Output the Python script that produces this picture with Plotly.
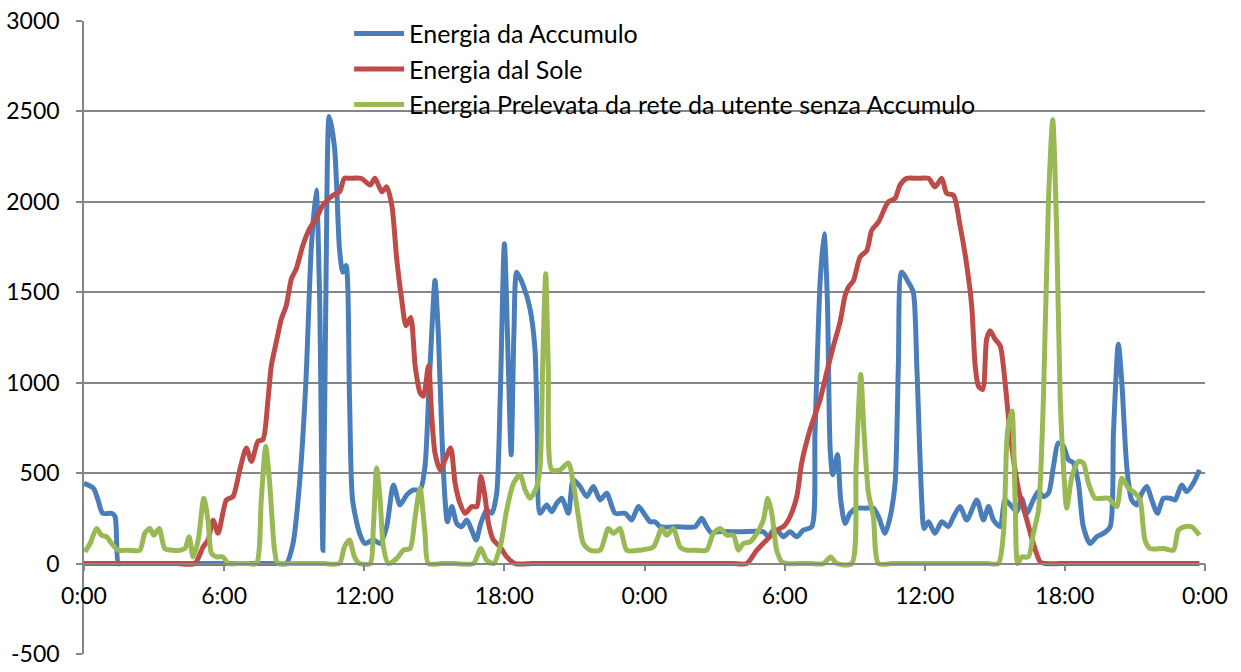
import plotly.graph_objects as go

# ---- Energia da Accumulo (hours, W) ----
acc_t = [0, 0.4, 0.6, 0.8, 1.18, 1.33, 1.47, 1.6, 2.5, 3.5,
         4.5, 5.5, 6.5, 7.5, 8.3, 8.66, 8.95,
         9.23, 9.5, 9.73, 9.94, 10.09, 10.23, 10.37, 10.5, 10.73, 10.94,
         11.08, 11.22, 11.37, 11.5, 11.8, 12.03, 12.39, 12.68, 12.96, 13.25,
         13.53, 13.82, 14.1, 14.39, 14.6, 14.75, 14.89, 15.03, 15.17, 15.32,
         15.46, 15.56, 15.75, 15.96, 16.17, 16.39, 16.6, 16.79, 16.99, 17.24,
         17.46, 17.67, 17.82, 18.0, 18.17, 18.29, 18.41, 18.53, 18.81, 19.1,
         19.31, 19.41, 19.53, 19.81, 20.03, 20.24, 20.46, 20.74, 20.95, 21.24,
         21.53, 21.81, 22.1, 22.38, 22.74, 23.17, 23.45, 23.74, 24.02, 24.24,
         24.45, 24.67, 25.4, 26.17, 26.45, 26.66, 26.88, 27.09, 28.1, 29.09, 29.3, 29.52,
         29.73, 29.95, 30.23, 30.52, 30.8, 31.16, 31.3, 31.52, 31.69, 31.83,
         31.95, 32.06, 32.26, 32.4, 32.59, 32.8, 33.09, 33.45, 33.8, 34.02, 34.3,
         34.52, 34.73, 34.87, 35.01, 35.3, 35.51, 35.66, 35.87, 35.97, 36.16,
         36.44, 36.73, 37.01, 37.23, 37.51, 37.8, 38.23, 38.51, 38.73, 38.94,
         39.23, 39.44, 39.73, 39.94, 40.15, 40.37, 40.65, 40.87, 41.08, 41.3,
         41.51, 41.72, 41.94, 42.15, 42.37, 42.58, 42.79, 43.08, 43.36, 43.65,
         43.94, 44.08, 44.29, 44.44, 44.65, 44.86, 45.08, 45.29, 45.51, 45.72,
         45.96, 46.22, 46.51, 46.72, 47.0, 47.22, 47.5, 47.76]
acc_v = [444, 417, 352, 278, 278, 260, 0, 0, 0, 0,
         0, 0, 0, 0, 0, 0, 111,
         444, 1000, 1740, 2065, 1463, 74, 1650, 2472, 2296, 1740,
         1611, 1648, 907, 352, 167, 111, 130, 111, 204, 435,
         324, 380, 407, 407, 537, 907, 1278, 1565, 1278, 722,
         352, 231, 315, 222, 204, 241, 185, 130, 222, 296,
         278, 389, 907, 1769, 1093, 602, 1278, 1611, 1537, 1407,
         1185, 722, 278, 324, 287, 333, 361, 278, 463, 426,
         370, 426, 352, 389, 278, 278, 241, 315, 269, 231,
         231, 204, 204, 204, 250, 204, 167, 176, 176, 176, 148, 185,
         176, 148, 176, 148, 185, 204, 722, 1556, 1824, 1463,
         630, 491, 602, 352, 222, 278, 306, 306, 306, 259, 167,
         259, 444, 1093, 1611, 1556, 1500, 1093, 352, 194, 231,
         167, 231, 204, 259, 315, 241, 352, 241, 315, 241,
         204, 352, 315, 287, 361, 278, 352, 398, 370, 389,
         537, 667, 648, 574, 556, 444, 204, 111, 148, 167,
         204, 722, 1213, 1000, 537, 352, 324, 389, 426, 352,
         278, 361, 361, 352, 435, 398, 444, 518]

# ---- Energia dal Sole ----
sole_t = [0, 1, 2, 3, 4, 4.74, 5.1, 5.31, 5.53, 5.74, 6.1, 6.38, 6.67, 6.95,
          7.17, 7.45, 7.66, 7.88, 8.02, 8.23, 8.45, 8.66, 8.88, 9.09,
          9.37, 9.66, 9.94, 10.23, 10.66, 10.94, 11.15, 11.37, 11.87, 12.25,
          12.46, 12.75, 12.96, 13.18, 13.39, 13.6, 13.79, 13.99, 14.18, 14.39,
          14.53, 14.75, 14.89, 15.03, 15.25, 15.46, 15.7, 15.89, 16.1, 16.32,
          16.6, 16.82, 16.99, 17.17, 17.32, 17.53, 17.82, 18.1, 18.46, 19.2,
          20, 21, 22, 23, 24, 25, 26, 27, 27.8, 28.38,
          28.81, 29.23, 29.66, 29.95, 30.23, 30.52, 30.73, 31.09, 31.52, 31.8,
          32.09, 32.37, 32.59, 32.73, 32.95, 33.23, 33.52, 33.73, 34.02, 34.44,
          34.73, 34.94, 35.23, 35.7, 36.16, 36.44, 36.73, 36.94, 37.23, 37.51, 37.8,
          38.01, 38.16, 38.3, 38.48, 38.65, 38.8, 39.01, 39.23, 39.44, 39.58,
          39.8, 40.08, 40.37, 40.65, 40.94, 41.15, 41.8, 42.5, 43.5, 44.5,
          45.5, 46.5, 47.76]
sole_v = [0, 0, 0, 0, 0, 0, 92, 130, 240, 167, 352, 370, 518, 639,
          565, 676, 685, 907, 1093, 1222, 1352, 1426, 1574, 1630,
          1759, 1852, 1907, 1982, 2037, 2055, 2130, 2130, 2130, 2093,
          2130, 2056, 2083, 1982, 1685, 1463, 1315, 1361, 1093, 944,
          926, 1093, 815, 611, 518, 574, 639, 444, 333, 278,
          315, 315, 481, 370, 222, 130, 92, 37, 0, 0,
          0, 0, 0, 0, 0, 0, 0, 0, 0, 0,
          74, 130, 185, 204, 259, 370, 556, 741, 907, 1056,
          1204, 1333, 1482, 1528, 1565, 1695, 1731, 1843, 1889, 2000,
          2019, 2093, 2130, 2130, 2130, 2083, 2130, 2046, 2037, 1870, 1648,
          1426, 1093, 981, 963, 1241, 1287, 1241, 1204, 1000, 815,
          574, 370, 241, 111, 9, 0, 0, 0, 0, 0,
          0, 0, 0]

# ---- Energia Prelevata da rete da utente senza Accumulo ----
rete_t = [0.04, 0.26, 0.54, 0.75, 0.97, 1.18, 1.47, 1.9, 2.39, 2.6, 2.82,
          2.99, 3.22, 3.46, 3.8, 4.1, 4.32, 4.5, 4.67, 4.89, 5.13, 5.31,
          5.46, 5.67, 5.95, 6.17, 6.6, 7.0, 7.38, 7.59, 7.78, 7.95, 8.16, 8.3,
          8.9, 9.6, 10.3, 10.94, 11.15, 11.37, 11.58, 11.8, 12.25, 12.39, 12.53, 12.68, 12.82,
          13.03, 13.39, 13.68, 13.96, 14.18, 14.39, 14.6, 14.75, 15.3, 15.9, 16.67, 16.99,
          17.24, 17.53, 17.82, 18.1, 18.39, 18.67, 18.89, 19.1, 19.39, 19.53,
          19.64, 19.77, 19.88, 20.03, 20.38, 20.74, 20.95, 21.17, 21.38, 21.67,
          22.1, 22.45, 22.67, 22.95, 23.24, 23.81, 24.38, 24.74, 24.95, 25.24,
          25.52, 25.81, 26.2, 26.66, 26.95, 27.24, 27.52, 27.81, 28.02, 28.23, 28.52,
          28.81, 29.09, 29.28, 29.45, 29.66, 29.88, 30.09, 30.6, 31.1, 31.66, 31.97, 32.23,
          32.87, 33.06, 33.26, 33.4, 33.59, 33.8, 34.02, 34.6, 35.3, 36.0, 36.7, 37.4,
          38.1, 38.7, 39.15, 39.37, 39.54,
          39.73, 39.87, 39.98, 40.15, 40.44, 40.65, 40.87, 41.08, 41.3, 41.48,
          41.65, 41.8, 41.94, 42.08, 42.3, 42.58, 42.79, 43.01, 43.29, 43.58,
          43.87, 44.22, 44.44, 44.72, 45.01, 45.22, 45.43, 45.65, 46.22, 46.65,
          46.86, 47.15, 47.43, 47.76]
rete_v = [65, 111, 194, 157, 148, 111, 74, 74, 74, 167, 194,
          157, 194, 83, 74, 74, 83, 148, 37, 130, 361, 240,
          56, 37, 37, 0, 0, 0, 0, 352, 648, 444, 74, 0,
          0, 0, 0, 0, 92, 130, 37, 0, 0, 200, 528, 352, 92,
          0, 28, 74, 83, 260, 417, 167, 0, 0, 0, 0, 83,
          19, 0, 92, 296, 444, 491, 407, 361, 426, 537,
          1093, 1602, 1093, 518, 518, 556, 444, 260, 111, 74,
          74, 194, 167, 194, 74, 74, 92, 194, 157, 194,
          92, 74, 74, 74, 167, 194, 157, 157, 74, 111, 120,
          167, 241, 361, 278, 74, 9, 0, 0, 0, 0, 37, 0,
          0, 537, 1046, 722, 389, 259, 0, 0, 0, 0, 0, 0,
          0, 0, 0, 167, 722,
          843, 352, 0, 37, 37, 167, 296, 907, 2019, 2454,
          1833, 907, 537, 306, 481, 565, 556, 444, 361, 361,
          361, 315, 472, 417, 389, 352, 130, 83, 83, 74,
          185, 204, 204, 157]

x_tick_vals = [0, 6, 12, 18, 24, 30, 36, 42, 48]
x_tick_text = ["0:00", "6:00", "12:00", "18:00", "0:00", "6:00", "12:00", "18:00", "0:00"]
y_tick_vals = [-500, 0, 500, 1000, 1500, 2000, 2500, 3000]
y_tick_text = ["-500", "0", "500", "1000", "1500", "2000", "2500", "3000"]

series = [
    ("Energia da Accumulo", acc_t, acc_v, "#4A7EBB"),
    ("Energia dal Sole", sole_t, sole_v, "#BE4B48"),
    ("Energia Prelevata da rete da utente senza Accumulo", rete_t, rete_v, "#98B954"),
]

FONT = "Lato"
GRID = "#868686"

fig = go.Figure()
for name, t, v, col in series:
    fig.add_trace(go.Scatter(x=t, y=v, mode="lines", name=name,
                             line=dict(color=col, width=5, shape="spline", smoothing=0.7)))

fig.update_layout(
    width=1241, height=672,
    margin=dict(l=84, r=36, t=21, b=18, autoexpand=False),
    paper_bgcolor="white", plot_bgcolor="white",
    font=dict(family=FONT, size=23, color="black"),
    showlegend=True,
    legend=dict(x=0.2365, y=1.016, xanchor="left", yanchor="top",
                bgcolor="rgba(0,0,0,0)", borderwidth=0,
                font=dict(family=FONT, size=25, color="black"),
                itemwidth=50, tracegroupgap=0),
    xaxis=dict(range=[0, 48], tickvals=x_tick_vals, ticktext=x_tick_text,
               showgrid=False, zeroline=False, showline=True, automargin=False,
               linecolor=GRID, linewidth=1.5, ticks="outside", ticklen=7,
               tickcolor=GRID, tickwidth=1.5, ticklabelstandoff=5,
               ticklabeloverflow="allow",
               anchor="free", position=500 / 3500,
               tickfont=dict(family=FONT, size=23, color="black")),
    yaxis=dict(range=[-500, 3000], tickvals=y_tick_vals, ticktext=y_tick_text,
               showgrid=True, automargin=False,
               gridcolor=GRID, gridwidth=1.5, zeroline=False,
               showline=True, linecolor=GRID, linewidth=1.5,
               ticks="outside", ticklen=6, tickcolor=GRID, tickwidth=1.5,
               ticklabelstandoff=12, ticklabeloverflow="allow",
               tickfont=dict(family=FONT, size=23, color="black")),
)

fig.write_html("out.html", config={"displayModeBar": False},
               post_script="document.body.style.margin='0px';")
